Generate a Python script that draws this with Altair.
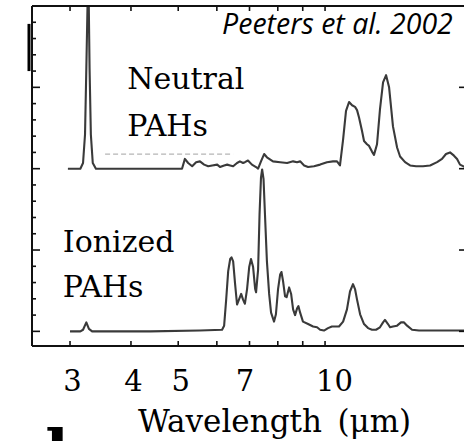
import altair as alt
import pandas as pd

# ---- Spectra (flux in arbitrary units; neutral trace offset by +2) ----
neutral_wavelength = [2.97, 3.15, 3.19, 3.22, 3.24, 3.27, 3.29, 3.31, 3.34, 3.39,
                      5.09, 5.16, 5.24, 5.34, 5.44, 5.54, 5.65, 5.76, 5.87, 6.01,
                      6.09, 6.21, 6.30, 6.39, 6.48, 6.60, 6.69, 6.79, 6.85, 6.95,
                      7.08, 7.22, 7.29, 7.39, 7.50, 7.60, 7.82, 8.09, 8.36, 8.60,
                      8.76, 8.89, 9.06, 9.23, 9.49, 9.77, 10.09, 10.38, 10.58, 10.73,
                      10.89, 11.04, 11.20, 11.36, 11.52, 11.63, 11.74, 11.91, 12.02, 12.19,
                      12.31, 12.48, 12.60, 12.78, 12.96, 13.15, 13.34, 13.53, 13.78, 14.05,
                      14.25, 14.59, 14.94, 15.37, 15.88, 16.42, 16.97, 17.37, 17.70, 18.04,
                      18.38, 18.65, 18.91, 19.36]
neutral_flux = [2.00, 2.00, 2.07, 2.42, 3.23, 4.50, 3.23, 2.42, 2.07, 2.00,
                2.00, 2.12, 2.07, 2.03, 2.08, 2.09, 2.05, 2.03, 2.04, 2.05,
                2.02, 2.04, 2.05, 2.04, 2.03, 2.07, 2.09, 2.07, 2.08, 2.10,
                2.05, 2.02, 2.00, 2.09, 2.18, 2.14, 2.09, 2.08, 2.07, 2.09,
                2.08, 2.09, 2.04, 2.02, 2.03, 2.05, 2.08, 2.09, 2.09, 2.04,
                2.36, 2.71, 2.82, 2.78, 2.76, 2.72, 2.63, 2.46, 2.34, 2.30,
                2.28, 2.21, 2.17, 2.30, 2.73, 3.06, 3.15, 3.00, 2.52, 2.26,
                2.15, 2.08, 2.04, 2.03, 2.03, 2.04, 2.08, 2.12, 2.18, 2.20,
                2.16, 2.12, 2.05, 2.02]

ionized_wavelength = [3.00, 3.15, 3.19, 3.24, 3.28, 3.33, 4.38, 5.54, 6.15, 6.21,
                      6.27, 6.33, 6.39, 6.43, 6.48, 6.54, 6.60, 6.66, 6.73, 6.79,
                      6.85, 6.92, 6.99, 7.05, 7.12, 7.19, 7.22, 7.29, 7.34, 7.39,
                      7.43, 7.48, 7.53, 7.60, 7.68, 7.75, 7.86, 7.93, 8.01, 8.09,
                      8.14, 8.20, 8.28, 8.34, 8.44, 8.52, 8.60, 8.68, 8.76, 8.82,
                      8.89, 9.01, 9.23, 9.45, 9.63, 9.77, 9.95, 10.14, 10.33, 10.53,
                      10.68, 10.89, 11.09, 11.25, 11.41, 11.52, 11.63, 11.80, 12.02, 12.25,
                      12.48, 12.72, 12.96, 13.15, 13.27, 13.46, 13.59, 13.78, 14.05, 14.31,
                      14.52, 14.73, 15.08, 15.58, 17.21, 19.36]
ionized_flux = [0.00, 0.00, 0.02, 0.11, 0.03, 0.00, 0.00, 0.01, 0.02, 0.07,
                0.39, 0.74, 0.89, 0.91, 0.86, 0.58, 0.33, 0.39, 0.46, 0.39,
                0.34, 0.52, 0.79, 0.89, 0.79, 0.52, 0.48, 0.76, 1.44, 1.89,
                1.99, 1.87, 1.44, 0.86, 0.46, 0.23, 0.12, 0.21, 0.52, 0.70,
                0.73, 0.62, 0.43, 0.42, 0.54, 0.46, 0.27, 0.20, 0.28, 0.31,
                0.23, 0.12, 0.09, 0.06, 0.05, 0.02, 0.01, 0.04, 0.06, 0.06,
                0.06, 0.12, 0.27, 0.49, 0.58, 0.52, 0.39, 0.21, 0.09, 0.04,
                0.02, 0.02, 0.05, 0.11, 0.14, 0.09, 0.05, 0.06, 0.07, 0.11,
                0.11, 0.07, 0.02, 0.01, 0.01, 0.01]

# ---- Axes ----
tick_wavelengths = [3, 4, 5, 6, 7, 8, 9, 10]
label_wavelengths = [3, 4, 5, 7, 10]
flux_minor_ticks = [0.2, 0.4, 0.6, 0.8, 1.2, 1.4, 1.6, 1.8, 2.2, 2.4, 2.6, 2.8,
                    3.2, 3.4, 3.6, 3.8]
flux_major_ticks = [0, 1, 2, 3]

# ---- Annotations ----
series_labels = ["Neutral", "PAHs", "Ionized", "PAHs"]
series_label_wavelength = [3.93, 3.93, 2.90, 2.90]
series_label_flux = [2.98, 2.40, 0.97, 0.42]

citation = ["Peeters et al. 2002"]
citation_wavelength = [6.15]
citation_flux = [3.65]

W, H = 432, 340
x_scale = alt.Scale(type="log", domain=[2.507, 19.27], nice=False)
y_scale = alt.Scale(domain=[-0.18, 4.0], nice=False, zero=False)
INK = "#111111"

x_axis = alt.Axis(
    values=label_wavelengths, format="d", domain=False, ticks=False, tickSize=0,
    grid=False, labelPadding=44, labelBaseline="alphabetic",
    labelFont="DejaVu Serif", labelFontSize=29, labelColor="black",
    labelFlush=False, labelOverlap=False, labelBound=False,
    labelOffset={"condition": [{"test": "datum.value == 10", "value": 9},
                               {"test": "datum.value == 7", "value": -5}],
                 "value": 2},
    title="Wavelength\u2002(\u03bcm)", titleFont="DejaVu Serif", titleFontSize=31,
    titleFontWeight="normal", titleColor="black", titleX=242, titleY=85,
    titleAlign="center", titleBaseline="alphabetic",
)


def xenc(field):
    return alt.X(field, scale=x_scale, axis=x_axis)


def yenc(field):
    return alt.Y(field, scale=y_scale, axis=None)


spectra = pd.concat([
    pd.DataFrame({"wavelength": neutral_wavelength, "flux": neutral_flux, "series": "Neutral"}),
    pd.DataFrame({"wavelength": ionized_wavelength, "flux": ionized_flux, "series": "Ionized"}),
])

lines = alt.Chart(spectra).mark_line(
    clip=True, color="#3a3a3a", strokeWidth=2.1, strokeJoin="round"
).encode(
    x=xenc("wavelength:Q"),
    y=yenc("flux:Q"),
    detail="series:N",
)

one_row = pd.DataFrame({"k": [0]})

# frame (left, top, bottom)
frame_left = alt.Chart(one_row).mark_rule(color=INK, strokeWidth=2).encode(
    x=alt.value(0), y=alt.value(0), y2=alt.value(H))
frame_top = alt.Chart(one_row).mark_rule(color=INK, strokeWidth=2).encode(
    x=alt.value(0), x2=alt.value(W), y=alt.value(0))
frame_bottom = alt.Chart(one_row).mark_rule(color=INK, strokeWidth=2).encode(
    x=alt.value(0), x2=alt.value(W), y=alt.value(H))

wl_ticks = pd.DataFrame({"wavelength": tick_wavelengths})
bottom_ticks = alt.Chart(wl_ticks).mark_rule(color=INK, strokeWidth=1.6).encode(
    x=xenc("wavelength:Q"), y=alt.value(H), y2=alt.value(H - 5))
top_ticks = alt.Chart(wl_ticks).mark_rule(color=INK, strokeWidth=1.6).encode(
    x=xenc("wavelength:Q"), y=alt.value(0), y2=alt.value(5))

minor_df = pd.DataFrame({"flux": flux_minor_ticks})
major_df = pd.DataFrame({"flux": flux_major_ticks})
left_minor = alt.Chart(minor_df).mark_rule(color=INK, strokeWidth=1.6).encode(
    y=yenc("flux:Q"), x=alt.value(0), x2=alt.value(4))
left_major = alt.Chart(major_df).mark_rule(color=INK, strokeWidth=1.6).encode(
    y=yenc("flux:Q"), x=alt.value(0), x2=alt.value(8))
right_major = alt.Chart(major_df).mark_rule(color=INK, strokeWidth=1.6).encode(
    y=yenc("flux:Q"), x=alt.value(W), x2=alt.value(W - 5))

# dark bracket on the left edge and faint dashed rule under the neutral label
bracket = alt.Chart(pd.DataFrame({"flux": [3.78], "flux_end": [3.20]})).mark_rule(
    color="black", strokeWidth=3).encode(
    x=alt.value(-3), y=yenc("flux:Q"), y2="flux_end:Q")
dashed = alt.Chart(pd.DataFrame({"wavelength": [3.54], "wavelength_end": [6.48],
                                 "flux": [2.18]})).mark_rule(
    color="#b5b5b5", strokeWidth=1.2, strokeDash=[5, 3]).encode(
    x=xenc("wavelength:Q"), x2="wavelength_end:Q", y=yenc("flux:Q"))

labels = alt.Chart(pd.DataFrame({
    "label": series_labels, "wavelength": series_label_wavelength, "flux": series_label_flux,
})).mark_text(align="left", baseline="alphabetic", font="DejaVu Serif",
              fontSize=30, color="black").encode(
    x=xenc("wavelength:Q"), y=yenc("flux:Q"), text="label:N",
)

cite = alt.Chart(pd.DataFrame({
    "label": citation, "wavelength": citation_wavelength, "flux": citation_flux,
})).mark_text(align="left", baseline="alphabetic", font="Open Sans",
              fontStyle="italic", fontSize=28.5, color="black").encode(
    x=xenc("wavelength:Q"), y=yenc("flux:Q"), text="label:N",
)

fragment = alt.Chart(pd.DataFrame({
    "label": ["l"], "wavelength": [2.67], "flux": [-1.75],
})).mark_text(align="left", baseline="alphabetic", font="DejaVu Serif",
              fontWeight="bold", fontSize=62, color="black").encode(
    x=xenc("wavelength:Q"), y=yenc("flux:Q"), text="label:N",
)

chart = alt.layer(
    lines, dashed, bracket,
    frame_left, frame_top, frame_bottom,
    bottom_ticks, top_ticks, left_minor, left_major, right_major,
    labels, cite, fragment,
).properties(
    width=W, height=H,
    autosize=alt.AutoSizeParams(type="none"),
    padding={"left": 32, "top": 6, "right": 0, "bottom": 95},
    background="white",
).configure_view(stroke=None)

chart.save("out.html", embed_options={"renderer": "svg", "actions": False})
